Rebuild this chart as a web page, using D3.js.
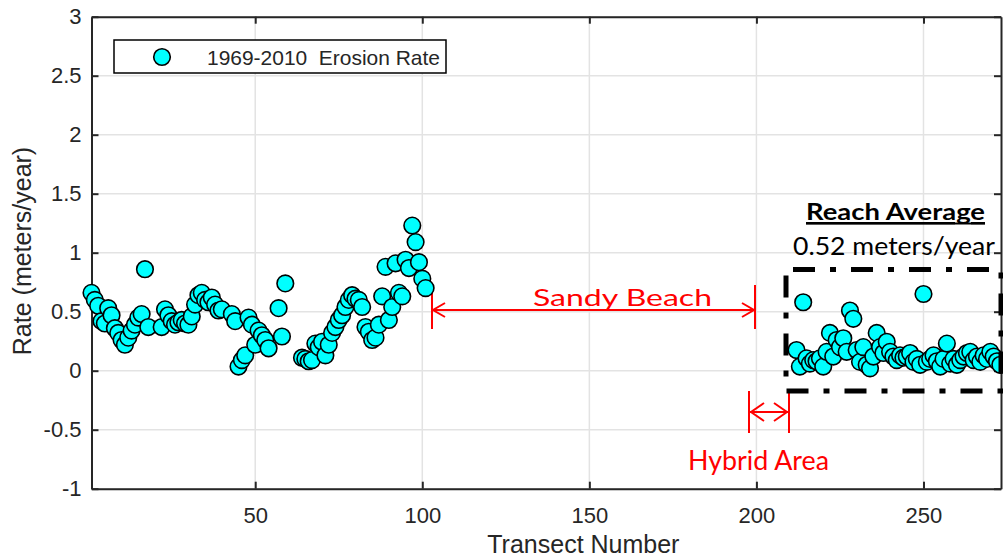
<!DOCTYPE html>
<html>
<head>
<meta charset="utf-8">
<script src="https://cdn.jsdelivr.net/npm/d3@7"></script>
<style>
  html, body { margin: 0; padding: 0; background: #fff; }
  svg { display: block; }
</style>
</head>
<body>
<div id="chart"></div>
<script>
// Erosion rate per transect, 1969-2010

// data
const transects = [
    1, 2, 3, 4, 5, 6, 7, 8, 9, 10, 11, 12, 13, 14, 15, 16, 17, 18,
    22, 23, 24, 25, 26, 27, 28, 29, 30, 31, 32, 33, 34, 35, 36, 37, 38, 39, 40,
    43, 44, 45, 46, 47, 48, 49, 50, 51, 52, 53, 54,
    57, 58, 59,
    64, 65, 66, 67, 68, 69, 70, 71, 72, 73, 74, 75, 76, 77, 78, 79, 80, 81, 82,
    83, 84, 85, 86, 87, 88, 89, 90, 91, 92, 93, 94, 95, 96, 97, 98, 99, 100, 101,
    212, 213, 214, 215, 216, 217, 218, 219, 220, 221, 222, 223, 224, 225, 226, 227,
    228, 229, 230, 231, 232, 233, 234, 235, 236, 237, 238, 239, 240, 241, 242, 243,
    244, 245, 246, 247, 248, 249, 250, 251, 252, 253, 254, 255, 256, 257, 258, 259,
    260, 261, 262, 263, 264, 265, 266, 267, 268, 269, 270, 271, 272, 273
];
const rates = [
    0.66, 0.60, 0.55, 0.42, 0.40, 0.53, 0.47, 0.36, 0.32, 0.26, 0.22, 0.28, 0.34, 0.39, 0.45, 0.48, 0.86, 0.37,
    0.37, 0.52, 0.47, 0.42, 0.39, 0.41, 0.43, 0.40, 0.39, 0.46, 0.56, 0.64, 0.66, 0.60, 0.58, 0.62, 0.56, 0.51, 0.52,
    0.48, 0.42, 0.035, 0.09, 0.13, 0.45, 0.39, 0.22, 0.34, 0.30, 0.26, 0.19,
    0.53, 0.29, 0.74,
    0.11, 0.10, 0.08, 0.09, 0.23, 0.20, 0.245, 0.13, 0.22, 0.32, 0.37, 0.43, 0.47, 0.54, 0.60, 0.64, 0.61, 0.60, 0.54,
    0.37, 0.33, 0.26, 0.28, 0.39, 0.63, 0.88, 0.43, 0.54, 0.91, 0.66, 0.63, 0.94, 0.87, 1.23, 1.09, 0.92, 0.78, 0.70,
    0.175, 0.035, 0.58, 0.105, 0.06, 0.09, 0.08, 0.105, 0.035, 0.16, 0.32, 0.12, 0.26, 0.20, 0.275, 0.16,
    0.51, 0.44, 0.175, 0.075, 0.20, 0.05, 0.02, 0.12, 0.32, 0.20, 0.15, 0.245, 0.16, 0.12, 0.09, 0.13,
    0.11, 0.12, 0.15, 0.075, 0.10, 0.05, 0.65, 0.075, 0.10, 0.13, 0.08, 0.035, 0.10, 0.23, 0.06, 0.10,
    0.05, 0.09, 0.12, 0.15, 0.16, 0.09, 0.12, 0.075, 0.13, 0.10, 0.16, 0.12, 0.08, 0.05
];
const xTicks = [50, 100, 150, 200, 250];
const yTicks = [-1, -0.5, 0, 0.5, 1, 1.5, 2, 2.5, 3];
const seriesName = '1969-2010  Erosion Rate';

const width = 1003, height = 559;
const axisColor = '#262626';
const gridColor = '#e3e3e3';
const red = '#ff0000';

const svg = d3.select('#chart')
    .append('svg')
    .attr('width', width)
    .attr('height', height);

const x = d3.scaleLinear().domain([1, 273.2]).range([91.5, 1001]);
const y = d3.scaleLinear().domain([-1, 3]).range([488.7, 16.7]);

const [x0, x1] = x.range();
const [yb, yt] = y.range();

// grid
const grid = svg.append('g');
grid.selectAll('line.gx')
    .data(xTicks)
    .enter().append('line')
    .attr('x1', d => x(d)).attr('x2', d => x(d))
    .attr('y1', yt).attr('y2', yb)
    .attr('stroke', gridColor).attr('stroke-width', 1.5);
grid.selectAll('line.gy')
    .data(yTicks)
    .enter().append('line')
    .attr('x1', x0).attr('x2', x1)
    .attr('y1', d => y(d)).attr('y2', d => y(d))
    .attr('stroke', gridColor).attr('stroke-width', 1.5);

// axes (MATLAB style box, ticks inside)
function styleAxis(g) {
    g.select('.domain').attr('stroke', axisColor).attr('stroke-width', 2);
    g.selectAll('.tick line').attr('stroke', axisColor).attr('stroke-width', 2);
    g.selectAll('.tick text')
        .attr('fill', axisColor)
        .style('font-family', '"Liberation Sans", Arial, sans-serif')
        .style('font-size', '22px');
}

svg.append('g')
    .attr('transform', `translate(0,${yb})`)
    .call(d3.axisBottom(x).tickValues(xTicks).tickSizeInner(-7).tickSizeOuter(0)
        .tickPadding(19).tickFormat(d => String(d)))
    .call(styleAxis);

svg.append('g')
    .attr('transform', `translate(0,${yt})`)
    .call(d3.axisBottom(x).tickValues(xTicks).tickSizeInner(7).tickSizeOuter(0)
        .tickFormat(''))
    .call(styleAxis);

svg.append('g')
    .attr('transform', `translate(${x0},0)`)
    .call(d3.axisLeft(y).tickValues(yTicks).tickSizeInner(-7).tickSizeOuter(0)
        .tickPadding(10).tickFormat(d => String(d)))
    .call(styleAxis);

svg.append('g')
    .attr('transform', `translate(${x1},0)`)
    .call(d3.axisLeft(y).tickValues(yTicks).tickSizeInner(7).tickSizeOuter(0)
        .tickFormat(''))
    .call(styleAxis);

// axis labels
svg.append('text')
    .attr('x', (x(50) + x(250)) / 2 - 6)
    .attr('y', 553)
    .attr('text-anchor', 'middle')
    .attr('fill', axisColor)
    .style('font-family', '"Liberation Sans", Arial, sans-serif')
    .style('font-size', '25px')
    .text('Transect Number');

svg.append('text')
    .attr('transform', 'translate(31,251) rotate(-90)')
    .attr('text-anchor', 'middle')
    .attr('fill', axisColor)
    .style('font-family', '"Liberation Sans", Arial, sans-serif')
    .style('font-size', '25px')
    .text('Rate (meters/year)');

// annotations: sandy beach span
const ann = svg.append('g').attr('stroke', red).attr('stroke-width', 2).attr('fill', 'none');
const sandyY = 310, sandyL = 432, sandyR = 755;
ann.append('line').attr('x1', sandyL).attr('x2', sandyL).attr('y1', 285).attr('y2', 329);
ann.append('line').attr('x1', sandyR).attr('x2', sandyR).attr('y1', 285).attr('y2', 329);
ann.append('line').attr('x1', sandyL).attr('x2', sandyR).attr('y1', sandyY).attr('y2', sandyY);
ann.append('path').attr('d', `M${sandyL + 13},${sandyY - 7}L${sandyL + 1},${sandyY}L${sandyL + 13},${sandyY + 7}`);
ann.append('path').attr('d', `M${sandyR - 13},${sandyY - 7}L${sandyR - 1},${sandyY}L${sandyR - 13},${sandyY + 7}`);

// hybrid area span
const hybY = 412, hybL = 749, hybR = 789;
ann.append('line').attr('x1', hybL).attr('x2', hybL).attr('y1', 391).attr('y2', 433);
ann.append('line').attr('x1', hybR).attr('x2', hybR).attr('y1', 391).attr('y2', 433);
ann.append('line').attr('x1', hybL).attr('x2', hybR).attr('y1', hybY).attr('y2', hybY);
ann.append('path').attr('d', `M${hybL + 15},${hybY - 9}L${hybL + 2},${hybY}L${hybL + 15},${hybY + 9}`);
ann.append('path').attr('d', `M${hybR - 15},${hybY - 9}L${hybR - 2},${hybY}L${hybR - 15},${hybY + 9}`);

svg.append('text')
    .attr('x', 533).attr('y', 306)
    .attr('textLength', 179).attr('lengthAdjust', 'spacingAndGlyphs')
    .attr('fill', red)
    .style('font-family', 'Lato, "Open Sans", sans-serif')
    .style('font-size', '24px')
    .text('Sandy Beach');

svg.append('text')
    .attr('x', 688).attr('y', 470)
    .attr('textLength', 141).attr('lengthAdjust', 'spacingAndGlyphs')
    .attr('fill', red)
    .style('font-family', 'Lato, "Open Sans", sans-serif')
    .style('font-size', '26px')
    .text('Hybrid Area');

// data points
const points = transects.map((t, i) => ({ t: t, r: rates[i] }));
svg.append('g')
    .selectAll('circle')
    .data(points)
    .enter().append('circle')
    .attr('cx', d => x(d.t))
    .attr('cy', d => y(d.r))
    .attr('r', 8.3)
    .attr('fill', '#00ffff')
    .attr('stroke', '#000')
    .attr('stroke-width', 1.6);

// reach average box (dash-dot)
svg.append('rect')
    .attr('x', 786).attr('y', 269.5)
    .attr('width', 1001 - 786).attr('height', 391 - 269.5)
    .attr('fill', 'none')
    .attr('stroke', '#000')
    .attr('stroke-width', 5)
    .attr('stroke-dasharray', '22,15,6,15')
    .attr('stroke-dashoffset', -7);

svg.append('text')
    .attr('x', 806).attr('y', 220)
    .attr('textLength', 179).attr('lengthAdjust', 'spacingAndGlyphs')
    .attr('fill', '#000')
    .attr('text-decoration', 'underline')
    .style('font-family', 'Lato, "Open Sans", sans-serif')
    .style('font-weight', 'bold')
    .style('font-size', '23px')
    .text('Reach Average');
svg.append('line')
    .attr('x1', 806).attr('x2', 985).attr('y1', 223.5).attr('y2', 223.5)
    .attr('stroke', '#000').attr('stroke-width', 2);

svg.append('text')
    .attr('x', 793).attr('y', 255)
    .attr('textLength', 202).attr('lengthAdjust', 'spacingAndGlyphs')
    .attr('fill', '#000')
    .style('font-family', 'Lato, "Open Sans", sans-serif')
    .style('font-size', '25px')
    .text('0.52 meters/year');

// legend
const legend = svg.append('g');
legend.append('rect')
    .attr('x', 114).attr('y', 40)
    .attr('width', 332).attr('height', 33)
    .attr('fill', '#fff')
    .attr('stroke', '#000')
    .attr('stroke-width', 1.5);
legend.append('circle')
    .attr('cx', 162).attr('cy', 57)
    .attr('r', 8.3)
    .attr('fill', '#00ffff')
    .attr('stroke', '#000')
    .attr('stroke-width', 1.6);
legend.append('text')
    .attr('x', 207).attr('y', 64.5)
    .attr('textLength', 233).attr('lengthAdjust', 'spacingAndGlyphs')
    .attr('fill', axisColor)
    .style('white-space', 'pre')
    .style('font-family', '"Liberation Sans", Arial, sans-serif')
    .style('font-size', '21px')
    .text(seriesName);
</script>
</body>
</html>
